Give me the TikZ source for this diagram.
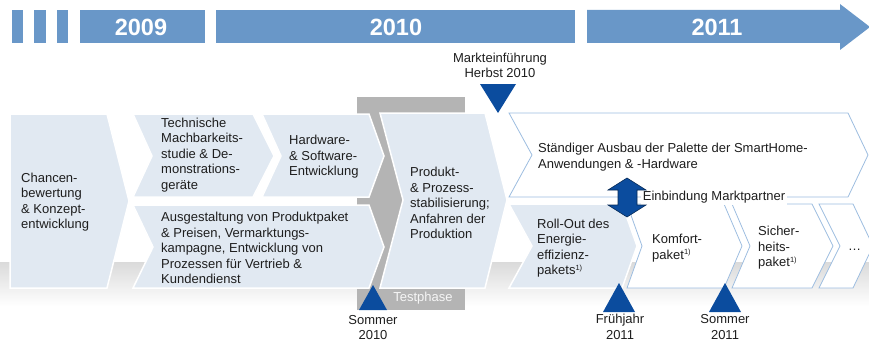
\documentclass[tikz,border=0pt]{standalone}
\usepackage{fontspec}
\setmainfont{Liberation Sans}
\definecolor{barblue}{HTML}{6997C8}
\definecolor{boxfill}{HTML}{E1E9F2}
\definecolor{boxline}{HTML}{9DBDE0}
\definecolor{darkblue}{HTML}{0B4C9E}
\definecolor{testgray}{HTML}{B4B4B4}
\definecolor{txt}{HTML}{1E1E1E}
\newcommand{\fnmark}{\raisebox{4.5pt}{\fontsize{7.5}{8}\selectfont 1)}}
\begin{document}
\begin{tikzpicture}[x=1pt,y=-1pt,
  lightbox/.style={fill=boxfill,draw=white,line width=1.5pt,line join=miter},
  whitebox/.style={fill=white,draw=boxline,line width=0.8pt,line join=miter},
  lbl/.style={inner sep=0pt,anchor=west,align=left,text=txt,font=\fontsize{13}{15.5}\selectfont},
  msl/.style={inner sep=0pt,align=center,text=txt,font=\fontsize{13}{15.5}\selectfont},
  yr/.style={text=white,font=\bfseries\fontsize{23.5}{24}\selectfont,inner sep=0pt},
  barpart/.style={fill=barblue},
  milestone/.style={fill=darkblue}]
\useasboundingbox (0,0) rectangle (869,345);
% timeline bar
\fill[barpart] (12,10) rectangle (23,43);
\fill[barpart] (34,10) rectangle (46,43);
\fill[barpart] (57,10) rectangle (68,43);
\fill[barpart] (80,10) rectangle (205,43);
\fill[barpart] (216,10) rectangle (575,43);
\fill[barpart] (587,10) -- (840,10) -- (840,4) -- (870,27) -- (840,50) -- (840,43) -- (587,43) -- cycle;
\node[yr] (y2009) at (141,27) {2009};
\node[yr] (y2010) at (396,27) {2010};
\node[yr] (y2011) at (717,27) {2011};
% background band
\shade[top color=gray!29,bottom color=white] (0,262) rectangle (869,306);
% test phase
\fill[testgray] (357,97) rectangle (465,310);
\node[inner sep=0pt,text=white!93!gray,font=\fontsize{13}{15}\selectfont] (test) at (423,298) {Testphase};
% boxes
\path[lightbox] (10,114) -- (107,114) -- (129,201) -- (107,288) -- (10,288) -- cycle;
\path[lightbox] (133,114) -- (253,114) -- (274,156) -- (253,197) -- (133,197) -- (152,156) -- cycle;
\path[lightbox] (262,114) -- (369,114) -- (384,156) -- (369,197) -- (262,197) -- (281,156) -- cycle;
\path[lightbox] (133,205) -- (369,205) -- (384,247) -- (369,288) -- (133,288) -- (153,247) -- cycle;
\path[lightbox] (380,113) -- (485,113) -- (507,200) -- (485,288) -- (380,288) -- (403,200) -- cycle;
\path[whitebox] (509,113) -- (848,113) -- (868,155) -- (848,197) -- (509,197) -- (532,155) -- cycle;
\path[lightbox] (509,204) -- (622,204) -- (637,246) -- (622,288) -- (509,288) -- (532,246) -- cycle;
\path[whitebox] (627,204) -- (724,204) -- (742,246) -- (724,288) -- (627,288) -- (642,246) -- cycle;
\path[whitebox] (732,204) -- (812,204) -- (833,246) -- (812,288) -- (732,288) -- (750,246) -- cycle;
\path[whitebox] (819,204) -- (853,204) -- (873,246) -- (853,288) -- (819,288) -- (840,246) -- cycle;
% texts
\node[lbl] (chancen) at (21,202) {Chancen-\\bewertung\\\& Konzept-\\entwicklung};
\node[lbl] (techn) at (161,155) {Technische\\Machbarkeits-\\studie \& De-\\monstrations-\\geräte};
\node[lbl] (hard) at (289,157) {Hardware-\\\& Software-\\Entwicklung};
\node[lbl] (ausg) at (161,248) {Ausgestaltung von Produktpaket\\\& Preisen, Vermarktungs-\\kampagne, Entwicklung von\\Prozessen für Vertrieb \&\\Kundendienst};
\node[lbl] (prod) at (410,203) {Produkt-\\\& Prozess-\\stabilisierung;\\Anfahren der\\Produktion};
\node[lbl] (staend) at (538,157) {Ständiger Ausbau der Palette der SmartHome-\\Anwendungen \& -Hardware};
\node[lbl] (roll) at (537,248) {Roll-Out des\\Energie-\\effizienz-\\pakets\fnmark};
\node[lbl] (komf) at (652,248) {Komfort-\\paket\fnmark};
\node[lbl] (sich) at (758,248) {Sicher-\\heits-\\paket\fnmark};
\node[lbl] (dots) at (848,250) {\dots};
% Einbindung
\node[inner sep=2pt,fill=white,text=txt,font=\fontsize{13}{15}\selectfont] (einb) at (714,197) {Einbindung Marktpartner};
\draw[fill=darkblue,draw=darkblue!55!black,line width=0.6pt] (627,178) -- (646,190) -- (637,190) -- (637,205) -- (646,205) -- (627,217) -- (608,205) -- (618,205) -- (618,190) -- (608,190) -- cycle;
% milestones
\fill[milestone] (480,84) -- (516,84) -- (498,113) -- cycle;
\node[msl] (markt) at (500,65.5) {Markteinführung\\Herbst 2010};
\fill[milestone] (373,285) -- (387,310) -- (359,310) -- cycle;
\node[msl] (s2010) at (373,327.5) {Sommer\\2010};
\fill[milestone] (619,283) -- (635,312) -- (603,312) -- cycle;
\node[msl] (f2011) at (620,327) {Frühjahr\\2011};
\fill[milestone] (725,283) -- (741,312) -- (709,312) -- cycle;
\node[msl] (s2011) at (725,327) {Sommer\\2011};
\end{tikzpicture}
\end{document}
